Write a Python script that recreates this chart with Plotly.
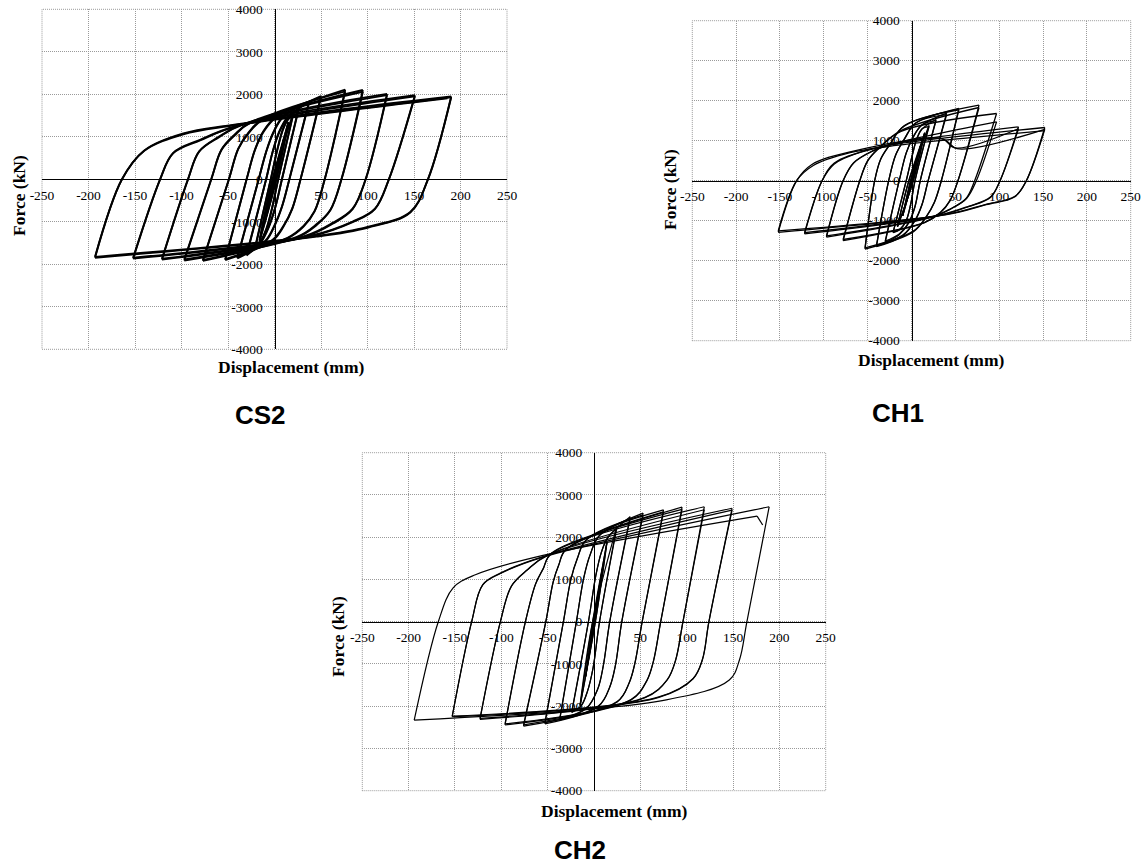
import plotly.graph_objects as go

N = None

# ---------------- CS2 ----------------
CS2_dp = [6, 6, 10, 10, 15, 15, 20, 20, 26, 26, 37, 37, 50, 50, 76, 76, 95, 95, 121, 121, 151, 151, 190, 190, 186]
CS2_fp = [560, 550, 930, 920, 1350, 1330, 1540, 1510, 1680, 1650, 1820, 1790, 1960, 1930, 2110, 2070, 2100, 2060, 2010, 1980, 1980, 1955, 1950, 1930, 1905]
CS2_dn = [-6, -6, -10, -10, -16, -16, -21, -21, -30, -30, -40, -40, -53, -53, -77, -77, -97, -97, -121, -121, -152, -152, -193, -193]
CS2_fn = [-580, -570, -960, -950, -1450, -1430, -1640, -1610, -1790, -1760, -1860, -1840, -1900, -1880, -1920, -1900, -1910, -1885, -1890, -1870, -1865, -1845, -1845, -1825]
CS2_zu = [0, -0.5, -0.5, -1, -1, -2, -2, -4, -4, -9, -9, -17, -17, -30, -30, -49, -49, -68, -68, -93, -93, -123, -123, -164, -164]
CS2_up_k1 = [N] * 7 + [(3, 700), (3, 690), (-2, 650), (-2, 640), (-9, 650), (-9, 640), (-21, 700), (-21, 690), (-39, 720), (-39, 710), (-57, 700), (-57, 690), (-81, 660), (-81, 650), (-109, 620), (-109, 610), (-140, 680), (-140, 670)]
CS2_up_k2 = [N] * 7 + [(9, 1180), (9, 1160), (5, 1120), (5, 1100), (-1, 1120), (-1, 1100), (-12, 1130), (-12, 1110), (-28, 1100), (-28, 1080), (-43, 1050), (-43, 1030), (-60, 1000), (-60, 985), (-80, 930), (-80, 915), (-98, 1080), (-98, 1060)]
CS2_up_p = [N] * 7 + [(14, 1400), (14, 1390), (14, 1460), (14, 1440), (10, 1500), (10, 1480), (3, 1500), (3, 1480), (-12, 1430), (-12, 1410), (-26, 1340), (-26, 1330), (-34, 1300), (-34, 1290), (-40, 1260), (-40, 1250), (-45, 1280), (-45, 1265)]
CS2_zd = [0.5, 0.5, 1, 1, 2, 2, 4, 4, 8, 8, 16, 16, 28, 28, 54, 54, 72, 72, 98, 98, 123, 123, 165, 165]
CS2_dn_k1 = [N] * 6 + [(-3, -720), (-3, -710), (1, -650), (1, -640), (8, -650), (8, -640), (19, -700), (19, -690), (43, -760), (43, -750), (60, -730), (60, -720), (84, -700), (84, -690), (108, -700), (108, -690), (146, -780), (146, -770)]
CS2_dn_k2 = [N] * 6 + [(-9, -1200), (-9, -1180), (-6, -1120), (-6, -1100), (0, -1100), (0, -1080), (10, -1100), (10, -1080), (31, -1120), (31, -1100), (45, -1080), (45, -1060), (63, -1040), (63, -1020), (84, -1010), (84, -995), (100, -1140), (100, -1120)]
CS2_dn_p = [N] * 6 + [(-15, -1480), (-15, -1460), (-15, -1500), (-15, -1480), (-10, -1470), (-10, -1450), (-2, -1440), (-2, -1420), (14, -1390), (14, -1375), (24, -1370), (24, -1355), (32, -1355), (32, -1340), (38, -1350), (38, -1335), (45, -1350), (45, -1335)]

# ---------------- CH1 ----------------
CH1_dp = [6, 6, 10, 10, 15, 15, 20, 20, 28, 28, 40, 40, 54, 54, 77, 77, 97, 97, 122, 122, 152, 152, 150]
CH1_fp = [520, 510, 860, 850, 1200, 1180, 1380, 1350, 1530, 1500, 1690, 1650, 1810, 1770, 1890, 1830, 1680, 1470, 1345, 1300, 1330, 1285, 1245]
CH1_dn = [-6, -6, -10, -10, -16, -16, -21, -21, -30, -30, -40, -40, -53, -53, -78, -78, -97, -97, -122, -122, -152, -152]
CH1_fn = [-540, -530, -880, -870, -1150, -1140, -1300, -1290, -1540, -1510, -1650, -1620, -1710, -1680, -1500, -1470, -1410, -1380, -1330, -1300, -1290, -1255]
CH1_zu = [0, -0.5, -0.5, -1, -1, -3, -3, -6, -6, -14, -14, -26, -26, -42, -42, -59, -59, -78, -78, -102, -102, -131, -131]
CH1_up_k1 = [N] * 7 + [(1, 650), (1, 640), (-6, 700), (-6, 690), (-18, 650), (-18, 640), (-35, 550), (-35, 540), (-50, 500), (-50, 490), (-66, 450), (-66, 440), (-88, 440), (-88, 420), (-114, 400), (-112, 380)]
CH1_up_k2 = [N] * 7 + [(6, 1050), (6, 1040), (2, 1100), (2, 1090), (-8, 1050), (-8, 1040), (-25, 900), (-25, 890), (-38, 800), (-38, 790), (-45, 740), (-45, 730), (-50, 760), (-55, 740), (-70, 720), (-70, 700)]
CH1_up_p = [N] * 7 + [(12, 1300), (12, 1290), (12, 1400), (12, 1390), (5, 1450), (5, 1440), (-8, 1380), (-8, 1370), (-12, 1250), (-12, 1230), (-25, 900), (-25, 890), (34, 1060), (-22, 900), (36, 1040), (-25, 860)]
CH1_up_q = [N] * 19 + [(50, 820), N, (52, 800), N]
CH1_zd = [0.5, 0.5, 1, 1, 2, 2, 4, 4, 10, 10, 19, 19, 34, 34, 53, 53, 72, 74, 101, 101, 131, 131]
CH1_dn_k1 = [N] * 6 + [(-1, -600), (-1, -590), (4, -650), (4, -640), (12, -600), (12, -590), (26, -550), (26, -540), (44, -500), (44, -490), (62, -450), (63, -440), (90, -420), (90, -410), (118, -400), (118, -390)]
CH1_dn_k2 = [N] * 6 + [(-6, -1000), (-6, -990), (-3, -1050), (-3, -1040), (4, -1000), (4, -990), (17, -900), (17, -890), (33, -800), (33, -790), (45, -700), (46, -690), (65, -650), (65, -640), (85, -600), (85, -590)]
CH1_dn_p = [N] * 6 + [(-13, -1220), (-13, -1210), (-14, -1350), (-14, -1330), (-10, -1380), (-10, -1360), (2, -1280), (2, -1260), (15, -1050), (15, -1040), (25, -900), (25, -890), (30, -880), (30, -870), (40, -850), (40, -840)]

# ---------------- CH2 ----------------
CH2_dp = [5, 5, 9, 9, 14, 14, 24.5, 24.5, 39, 39, 53, 53, 75, 75, 95, 95, 119, 119, 149, 149, 189, 176]
CH2_fp = [700, 690, 1250, 1230, 1900, 1870, 2250, 2200, 2485, 2440, 2570, 2530, 2645, 2600, 2710, 2660, 2720, 2650, 2685, 2640, 2720, 2500]
CH2_dn = [-5, -5, -9, -9, -15, -15, -24, -24, -37, -37, -53, -53, -76, -76, -96, -96, -123, -123, -153, -153, -194]
CH2_fn = [-720, -710, -1300, -1280, -2000, -1970, -2150, -2120, -2330, -2300, -2420, -2390, -2470, -2440, -2445, -2420, -2310, -2290, -2250, -2235, -2330]
CH2_zu = [0, -0.3, -0.3, -0.6, -0.6, -1.5, -1.5, -6, -6, -19, -19, -33, -33, -52, -52, -74, -74, -101, -101, -132, -132, -168]
CH2_up_k1 = [N] * 7 + [(2, 1100), (2, 1090), (-11, 1050), (-11, 1040), (-25, 1000), (-25, 990), (-44, 950), (-44, 940), (-63, 900), (-63, 890), (-89, 850), (-89, 840), (-120, 880), (-120, 870), (-152, 800)]
CH2_up_k2 = [N] * 7 + [(8, 1650), (8, 1640), (-4, 1600), (-4, 1590), (-18, 1500), (-18, 1490), (-38, 1350), (-38, 1340), (-55, 1250), (-55, 1240), (-72, 1230), (-72, 1220), (-101, 1150), (-101, 1140), (-128, 1110)]
CH2_up_p = [N] * 7 + [(15, 2000), (15, 1990), (6, 2050), (6, 2040), (-8, 1950), (-8, 1940), (-30, 1720), (-30, 1710), (-46, 1620), (-46, 1610), (-50, 1580), (-50, 1570), (-55, 1540), (-55, 1530), (-55, 1570)]
CH2_zd = [0.3, 0.3, 0.6, 0.6, 1.5, 1.5, 6, 6, 17, 17, 30, 30, 52, 52, 72, 72, 96, 96, 124, 124, 165]
CH2_dn_k1 = [N] * 6 + [(-1, -1100), (-1, -1090), (10, -1050), (10, -1040), (23, -1050), (23, -1040), (44, -1000), (44, -990), (64, -950), (64, -940), (88, -920), (88, -910), (117, -900), (117, -890), (157, -900)]
CH2_dn_k2 = [N] * 6 + [(-7, -1650), (-7, -1640), (4, -1600), (4, -1590), (17, -1550), (17, -1540), (38, -1450), (38, -1440), (57, -1400), (57, -1390), (79, -1380), (79, -1370), (107, -1350), (107, -1340), (146, -1380)]
CH2_dn_p = [N] * 6 + [(-14, -2000), (-14, -1990), (-8, -2050), (-8, -2040), (5, -2000), (5, -1990), (25, -1900), (25, -1890), (40, -1850), (40, -1840), (55, -1800), (55, -1790), (70, -1790), (70, -1780), (78, -1850)]
CH2_tail = (182, 2290)

X_TICKS = [-250, -200, -150, -100, -50, 0, 50, 100, 150, 200, 250]
X_TEXT = ['-250', '-200', '-150', '-100', '-50', '', '50', '100', '150', '200', '250']
Y_TICKS = [-4000, -3000, -2000, -1000, 0, 1000, 2000, 3000, 4000]
Y_TEXT = ['-4000', '-3000', '-2000', '-1000', '0', '1000', '2000', '3000', '4000']


def loop_xy(dp, fp, dn, fn, zu, up_pts, zd, dn_pts, tail=None):
    xs, ys = [], []

    def add(seg):
        for a, b in seg:
            xs.append(a)
            ys.append(b)
        xs.append(None)
        ys.append(None)

    for i in range(len(dp)):
        if i == 0:
            seg = [(0.0, 0.0)]
        else:
            seg = [(dn[i - 1], fn[i - 1]), (zu[i], 0.0)]
        for arr in up_pts:
            if arr[i] is not None:
                seg.append(arr[i])
        seg.append((dp[i], fp[i]))
        add(seg)
        if i < len(dn):
            seg = [(dp[i], fp[i]), (zd[i], 0.0)]
            for arr in dn_pts:
                if arr[i] is not None:
                    seg.append(arr[i])
            seg.append((dn[i], fn[i]))
            add(seg)
    if tail is not None:
        add([(dp[-1], fp[-1]), tail])
    return xs, ys


W, H = 1145, 865


def pxx(v):
    return v / W


def pxy(v):
    return 1 - v / H


panels = [
    dict(key='', box=(42, 9.3, 507, 349.3), width=1.9,
         xy=loop_xy(CS2_dp, CS2_fp, CS2_dn, CS2_fn, CS2_zu, [CS2_up_k1, CS2_up_k2, CS2_up_p],
                    CS2_zd, [CS2_dn_k1, CS2_dn_k2, CS2_dn_p]),
         xtitle=(291, 367), ytitle=(19, 196), title=('CS2', 260.5, 414.5)),
    dict(key='2', box=(692.3, 20.7, 1130.7, 340.7), width=1.3,
         xy=loop_xy(CH1_dp, CH1_fp, CH1_dn, CH1_fn, CH1_zu, [CH1_up_k1, CH1_up_k2, CH1_up_p, CH1_up_q],
                    CH1_zd, [CH1_dn_k1, CH1_dn_k2, CH1_dn_p]),
         xtitle=(931, 360), ytitle=(670, 190), title=('CH1', 898.3, 413)),
    dict(key='3', box=(362.3, 452.7, 825.7, 790.7), width=1.2,
         xy=loop_xy(CH2_dp, CH2_fp, CH2_dn, CH2_fn, CH2_zu, [CH2_up_k1, CH2_up_k2, CH2_up_p],
                    CH2_zd, [CH2_dn_k1, CH2_dn_k2, CH2_dn_p], CH2_tail),
         xtitle=(614, 811), ytitle=(338, 637), title=('CH2', 580, 849.5)),
]

GRID = '#9a9a9a'
GRID_DASH = '1px,1px'
TICKFONT = dict(family='Liberation Serif', size=13.5, color='black')
fig = go.Figure()
annotations = []
shapes = []
layout = dict(width=W, height=H, autosize=False, margin=dict(l=0, r=0, t=0, b=0, pad=0, autoexpand=False),
              paper_bgcolor='white', plot_bgcolor='white', showlegend=False)

for p in panels:
    k = p['key']
    l, t, r, b = p['box']
    xd = [pxx(l), pxx(r)]
    yd = [pxy(b), pxy(t)]
    xs, ys = p['xy']
    fig.add_trace(go.Scatter(x=xs, y=ys, mode='lines', xaxis='x' + k, yaxis='y' + k,
                             line=dict(color='black', width=p['width'], shape='spline', smoothing=1),
                             connectgaps=False, hoverinfo='skip'))
    layout['xaxis' + k] = dict(domain=xd, range=[-250, 250], anchor='free', position=(yd[0] + yd[1]) / 2,
                               tickmode='array', tickvals=X_TICKS, ticktext=X_TEXT, automargin=False,
                               showgrid=True, gridcolor=GRID, griddash=GRID_DASH, gridwidth=1,
                               zeroline=False, showline=True, linecolor='black', linewidth=1,
                               ticks='', ticklabelstandoff=3, tickfont=TICKFONT, layer='below traces',
                               fixedrange=True)
    layout['yaxis' + k] = dict(domain=yd, range=[-4000, 4000], anchor='free', position=(xd[0] + xd[1]) / 2,
                               tickmode='array', tickvals=Y_TICKS, ticktext=Y_TEXT, automargin=False,
                               showgrid=True, gridcolor=GRID, griddash=GRID_DASH, gridwidth=1,
                               zeroline=False, showline=True, linecolor='black', linewidth=1,
                               ticks='', ticklabelstandoff=9, tickfont=TICKFONT, layer='below traces',
                               fixedrange=True)
    shapes.append(dict(type='rect', xref='x' + k + ' domain', yref='y' + k + ' domain',
                       x0=0, x1=1, y0=0, y1=1, line=dict(color=GRID, width=1, dash=GRID_DASH), layer='below'))
    annotations.append(dict(text='Displacement (mm)', x=pxx(p['xtitle'][0]), y=pxy(p['xtitle'][1]),
                            xref='paper', yref='paper', showarrow=False, xanchor='center', yanchor='middle',
                            font=dict(family='Liberation Serif', size=17.5, color='black', weight='bold')))
    annotations.append(dict(text='Force (kN)', x=pxx(p['ytitle'][0]), y=pxy(p['ytitle'][1]),
                            xref='paper', yref='paper', showarrow=False, xanchor='center', yanchor='middle',
                            textangle=-90,
                            font=dict(family='Liberation Serif', size=17.5, color='black', weight='bold')))
    name, tx, ty = p['title']
    annotations.append(dict(text=name, x=pxx(tx), y=pxy(ty), xref='paper', yref='paper', showarrow=False,
                            xanchor='center', yanchor='middle',
                            font=dict(family='Liberation Sans', size=26, color='black', weight='bold')))

layout['annotations'] = annotations
layout['shapes'] = shapes
fig.update_layout(**layout)
fig.write_html('out.html', config={'displayModeBar': False, 'staticPlot': True},
               post_script="document.body.style.margin='0px';document.body.style.padding='0px';"
                           "document.body.style.overflow='hidden';")
